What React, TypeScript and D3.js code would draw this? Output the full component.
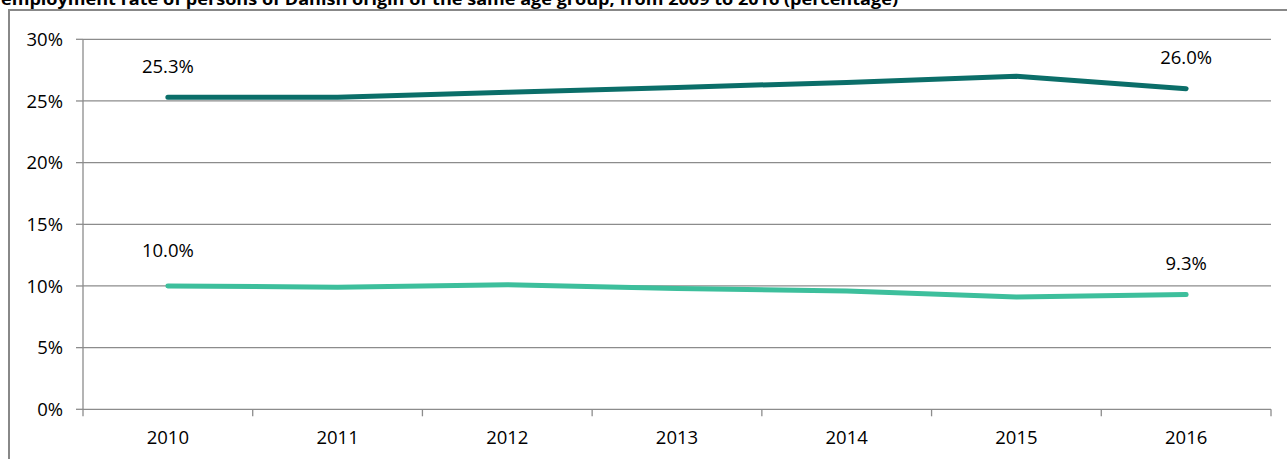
import React from "react";
import * as d3 from "d3";

// Employment rate series, 2010–2016 (percent)
const years = ["2010", "2011", "2012", "2013", "2014", "2015", "2016"];
const danishOriginRate = [25.3, 25.3, 25.7, 26.1, 26.5, 27.0, 26.0];
const secondSeriesRate = [10.0, 9.9, 10.1, 9.8, 9.6, 9.1, 9.3];
const yTicks = [0, 5, 10, 15, 20, 25, 30];
const titleText =
  "employment rate of persons of Danish origin of the same age group, from 2009 to 2016 (percentage)";

const W = 1287;
const H = 459;
const FONT = "'Open Sans', 'DejaVu Sans', sans-serif";

export default function App() {
  const plot = { left: 83, right: 1271, top: 39.3, bottom: 409.3 };

  const x = d3
    .scaleBand<string>()
    .domain(years)
    .range([plot.left, plot.right])
    .paddingInner(0)
    .paddingOuter(0);
  const y = d3.scaleLinear().domain([0, 30]).range([plot.bottom, plot.top]);
  const cx = (yr: string) => (x(yr) as number) + x.bandwidth() / 2;

  const line = d3
    .line<number>()
    .x((_, i) => cx(years[i]))
    .y((v) => y(v));

  const series = [
    { values: danishOriginRate, color: "#0b6e69" },
    { values: secondSeriesRate, color: "#3dbf9c" },
  ];

  // end-point labels: first and last year of each series
  const labels: { yr: string; v: number; lift: number }[] = [];
  series.forEach((s, si) => {
    const first = 0;
    const last = s.values.length - 1;
    labels.push({ yr: years[first], v: s.values[first], lift: si === 1 ? 36 : 31 });
    labels.push({ yr: years[last], v: s.values[last], lift: 31 });
  });

  const boundaries = [...years.map((yr) => x(yr) as number), plot.right];
  const grid = "#8c8c8c";

  return (
    <svg
      width={W}
      height={H}
      style={{ position: "absolute", left: 0, top: 0, background: "#fff" }}
      fontFamily={FONT}
    >
      <rect x={0} y={0} width={W} height={H} fill="#fff" />
      {/* outer chart frame */}
      <rect x={9} y={10} width={W + 20} height={H + 20} fill="none" stroke="#888" strokeWidth={2} />
      {/* title, partly above the frame */}
      <text
        x={1}
        y={5}
        fontSize={16}
        fontWeight="bold"
        fill="#000"
        textLength={897}
        lengthAdjust="spacingAndGlyphs"
      >
        {titleText}
      </text>

      {/* horizontal gridlines */}
      {yTicks.map((t) => (
        <line key={"g" + t} x1={plot.left} x2={plot.right} y1={y(t)} y2={y(t)} stroke={grid} strokeWidth={1.3} />
      ))}
      {/* y axis */}
      <line x1={plot.left} x2={plot.left} y1={plot.top} y2={plot.bottom} stroke={grid} strokeWidth={1.3} />
      {yTicks.map((t) => (
        <g key={"y" + t}>
          <line x1={plot.left - 7} x2={plot.left} y1={y(t)} y2={y(t)} stroke={grid} strokeWidth={1.3} />
          <text x={63} y={y(t)} dy="0.36em" textAnchor="end" fontSize={18.5} fill="#000">
            {t + "%"}
          </text>
        </g>
      ))}
      {/* x axis ticks and labels */}
      {boundaries.map((bx, i) => (
        <line key={"xt" + i} x1={bx} x2={bx} y1={plot.bottom} y2={plot.bottom + 7} stroke={grid} strokeWidth={1.3} />
      ))}
      {years.map((yr) => (
        <text key={"x" + yr} x={cx(yr)} y={437} dy="0.36em" textAnchor="middle" fontSize={18.5} fill="#000">
          {yr}
        </text>
      ))}

      {/* series lines */}
      {series.map((s, i) => (
        <path
          key={"s" + i}
          d={line(s.values) as string}
          fill="none"
          stroke={s.color}
          strokeWidth={5}
          strokeLinecap="round"
          strokeLinejoin="round"
        />
      ))}

      {/* value labels */}
      {labels.map((l, i) => (
        <text
          key={"l" + i}
          x={cx(l.yr)}
          y={y(l.v) - l.lift}
          dy="0.36em"
          textAnchor="middle"
          fontSize={18.5}
          fill="#000"
        >
          {l.v.toFixed(1) + "%"}
        </text>
      ))}
    </svg>
  );
}
